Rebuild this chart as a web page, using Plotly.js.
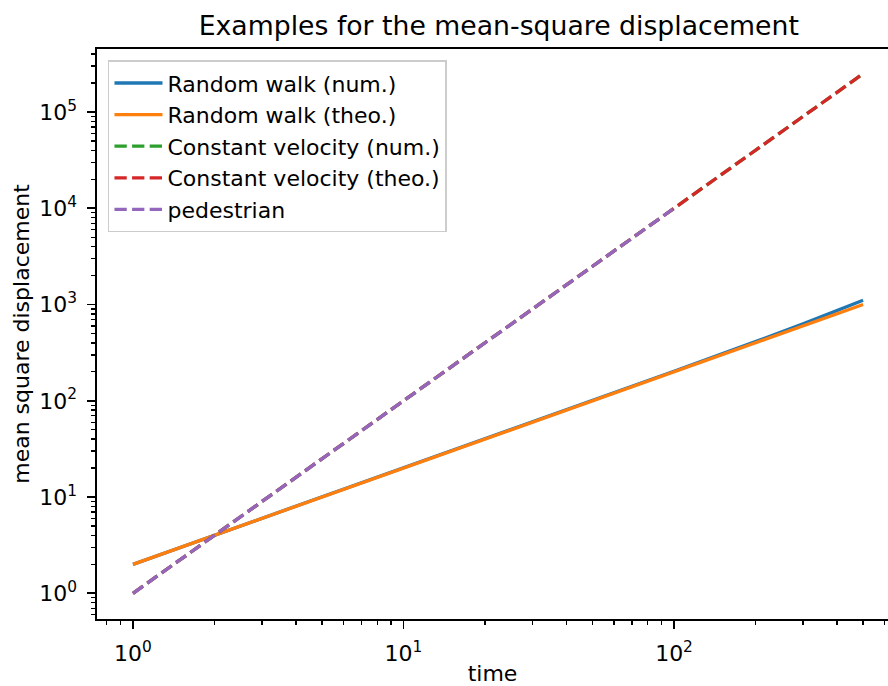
<!DOCTYPE html>
<html>
<head>
<meta charset="utf-8">
<script src="https://cdn.plot.ly/plotly-3.0.1.min.js"></script>
<style>
  html, body { margin: 0; padding: 0; background: #fff; }
  #chart { width: 888px; height: 686px; }
</style>
</head>
<body>
<div id="chart"></div>
<script>
// ---- data ----
const timeRW = [1, 2, 3, 5, 10, 20, 30, 50, 100, 200, 300, 500];
const rwNum  = [2, 4, 6, 10, 20, 40.2, 60.4, 100.8, 203, 412, 630, 1110];
const rwTheo = [2, 4, 6, 10, 20, 40, 60, 100, 200, 400, 600, 1000];
const cvNum  = [1, 4, 9, 25, 100, 400, 900, 2500, 10000, 40000, 90000, 250000];
const cvTheo = [1, 4, 9, 25, 100, 400, 900, 2500, 10000, 40000, 90000, 250000];
const timePed = [1, 2, 3, 5, 10, 20, 30, 50, 99];
const ped     = [1, 4, 9, 25, 100, 400, 900, 2500, 9801];

const seriesNames = ["Random walk (num.)", "Random walk (theo.)",
  "Constant velocity (num.)", "Constant velocity (theo.)", "pedestrian"];
const seriesColors = ["#1f77b4", "#ff7f0e", "#2ca02c", "#d62728", "#9467bd"];

const xTickVals = [1, 10, 100];
const xTickText = ["10<sup>0</sup>", "10<sup>1</sup>", "10<sup>2</sup>"];
const yTickVals = [1, 10, 100, 1000, 10000, 100000];
const yTickText = ["10<sup>0</sup>", "10<sup>1</sup>", "10<sup>2</sup>",
  "10<sup>3</sup>", "10<sup>4</sup>", "10<sup>5</sup>"];

// minor tick positions (axis config)
function minorTicks(dMin, dMax) {
  const out = [];
  for (let d = dMin; d <= dMax; d++) {
    for (let k = 2; k <= 9; k++) out.push(k * Math.pow(10, d));
  }
  return out;
}

const LW = 3.3;
const DASH = "12.3px,5.3px";
const font = "DejaVu Sans, sans-serif";

const traces = [
  {x: timeRW, y: rwNum,  dash: "solid"},
  {x: timeRW, y: rwTheo, dash: "solid"},
  {x: timeRW, y: cvNum,  dash: DASH},
  {x: timeRW, y: cvTheo, dash: DASH},
  {x: timePed, y: ped,   dash: DASH}
].map((t, i) => ({
  type: "scatter", mode: "lines", x: t.x, y: t.y,
  name: seriesNames[i], legendgroup: "g" + i,
  line: {color: seriesColors[i], width: LW, dash: t.dash},
  hoverinfo: "skip"
}));

const axisCommon = {
  type: "log",
  showgrid: false, zeroline: false,
  showline: true, linecolor: "#000", linewidth: 1.8,
  ticks: "outside", ticklen: 7.8, tickwidth: 1.8, tickcolor: "#000",
  tickmode: "array",
  tickfont: {family: font, size: 22, color: "#000"},
  ticklabelstandoff: 6
};

const layout = {
  width: 888, height: 686,
  margin: {l: 97, r: 0, t: 49, b: 67},
  paper_bgcolor: "#fff", plot_bgcolor: "#fff",
  font: {family: font, color: "#000"},
  showlegend: true,
  title: {
    text: "Examples for the mean-square displacement",
    font: {family: font, size: 26.7, color: "#000"},
    xref: "paper", x: 0.508, xanchor: "center",
    yref: "container", y: 0.962, yanchor: "middle"
  },
  xaxis: Object.assign({}, axisCommon, {
    mirror: true,
    range: [-0.133, 2.791],
    tickvals: xTickVals, ticktext: xTickText,
    minor: {tickmode: "array", tickvals: minorTicks(-1, 2), ticks: "outside",
            ticklen: 4.4, tickwidth: 1.3, tickcolor: "#000", showgrid: false},
    title: {text: "time", font: {family: font, size: 22, color: "#000"}, standoff: 24}
  }),
  yaxis: Object.assign({}, axisCommon, {
    mirror: false,
    range: [-0.267, 5.655],
    tickvals: yTickVals, ticktext: yTickText,
    minor: {tickmode: "array", tickvals: minorTicks(-1, 5), ticks: "outside",
            ticklen: 4.4, tickwidth: 1.3, tickcolor: "#000", showgrid: false},
    title: {text: "mean square displacement", font: {family: font, size: 22, color: "#000"}, standoff: 3}
  }),
  legend: {
    x: 0.0135, y: 0.98, xanchor: "left", yanchor: "top",
    bgcolor: "rgba(255,255,255,0.8)", bordercolor: "#cccccc", borderwidth: 1.8,
    font: {family: font, size: 22, color: "#000"},
    tracegroupgap: 0, itemwidth: 48
  }
};

Plotly.newPlot("chart", traces, layout, {displayModeBar: false, staticPlot: true});
</script>
</body>
</html>
